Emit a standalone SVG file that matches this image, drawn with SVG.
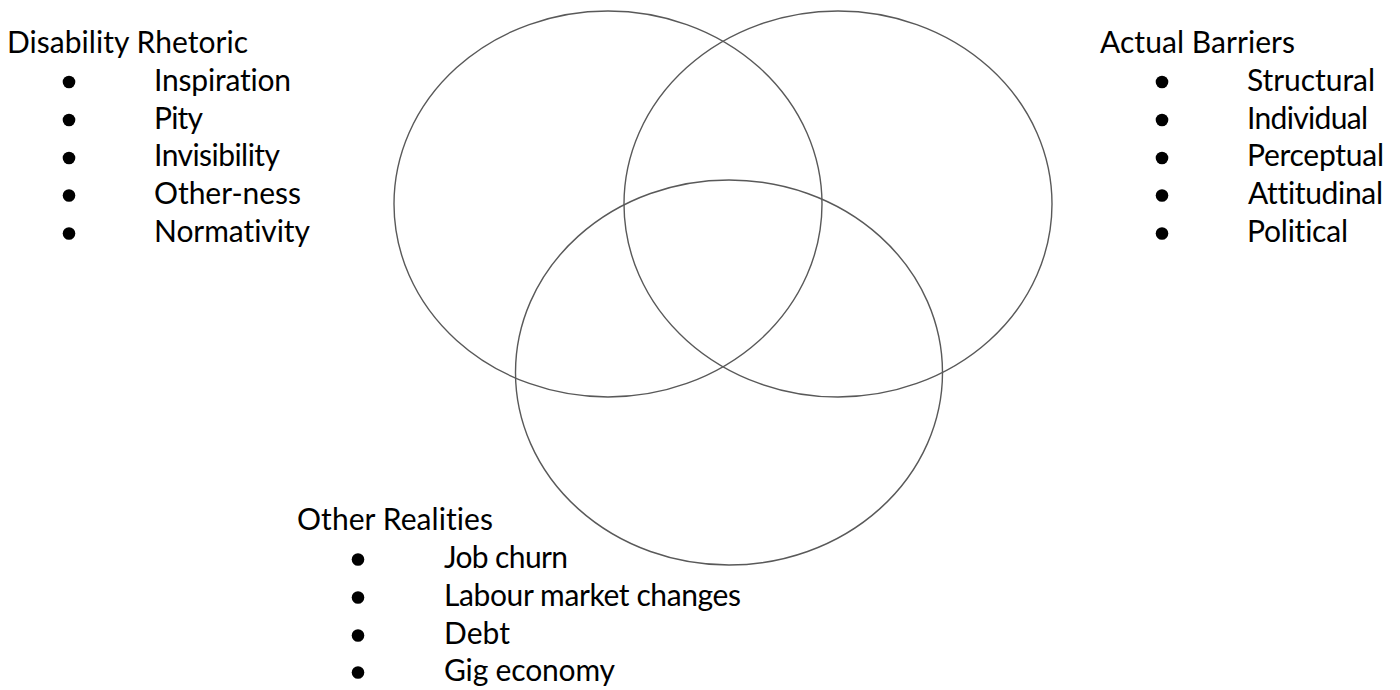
<svg xmlns="http://www.w3.org/2000/svg" width="1400" height="690" viewBox="0 0 1400 690">
<style>
.c{fill:none;stroke:#595959;stroke-width:1.4}
.t{font-family:Lato,"Liberation Sans",sans-serif;font-size:30px;fill:#000;font-variant-ligatures:none}
.b{fill:#000}
</style>
<rect width="1400" height="690" fill="#fff"/>
<g id="circles">
<ellipse id="c1" class="c" cx="608" cy="204" rx="214" ry="193"/>
<ellipse id="c2" class="c" cx="838" cy="204" rx="214" ry="193"/>
<ellipse id="c3" class="c" cx="729" cy="372.5" rx="213.5" ry="192.5"/>
</g>
<g id="rhetoric">
<text class="t" x="7" y="52.5" textLength="241">Disability Rhetoric</text>
<circle class="b" cx="69" cy="82" r="6.3"/><text class="t" x="154" y="90.7" textLength="137">Inspiration</text>
<circle class="b" cx="69" cy="120" r="6.3"/><text class="t" x="154" y="128.5" textLength="49">Pity</text>
<circle class="b" cx="69" cy="158" r="6.3"/><text class="t" x="154" y="166.3" textLength="126">Invisibility</text>
<circle class="b" cx="69" cy="195.5" r="6.3"/><text class="t" x="154" y="204" textLength="147">Other-ness</text>
<circle class="b" cx="69" cy="233.5" r="6.3"/><text class="t" x="154" y="242" textLength="156">Normativity</text>
</g>
<g id="barriers">
<text class="t" x="1100" y="52.5" textLength="195">Actual Barriers</text>
<circle class="b" cx="1162" cy="82" r="6.3"/><text class="t" x="1247" y="90.7" textLength="128">Structural</text>
<circle class="b" cx="1162" cy="120" r="6.3"/><text class="t" x="1247" y="128.5" textLength="121">Individual</text>
<circle class="b" cx="1162" cy="158" r="6.3"/><text class="t" x="1247" y="166.3" textLength="137">Perceptual</text>
<circle class="b" cx="1162" cy="195.5" r="6.3"/><text class="t" x="1248" y="204" textLength="135">Attitudinal</text>
<circle class="b" cx="1162" cy="233.5" r="6.3"/><text class="t" x="1247" y="242" textLength="101">Political</text>
</g>
<g id="realities">
<text class="t" x="297" y="530" textLength="196">Other Realities</text>
<circle class="b" cx="358" cy="559.5" r="6.3"/><text class="t" x="444" y="568" textLength="124">Job churn</text>
<circle class="b" cx="358" cy="597.5" r="6.3"/><text class="t" x="444" y="606" textLength="297">Labour market changes</text>
<circle class="b" cx="358" cy="635.5" r="6.3"/><text class="t" x="444" y="644" textLength="66">Debt</text>
<circle class="b" cx="358" cy="672.5" r="6.3"/><text class="t" x="444" y="681" textLength="171">Gig economy</text>
</g>
</svg>
